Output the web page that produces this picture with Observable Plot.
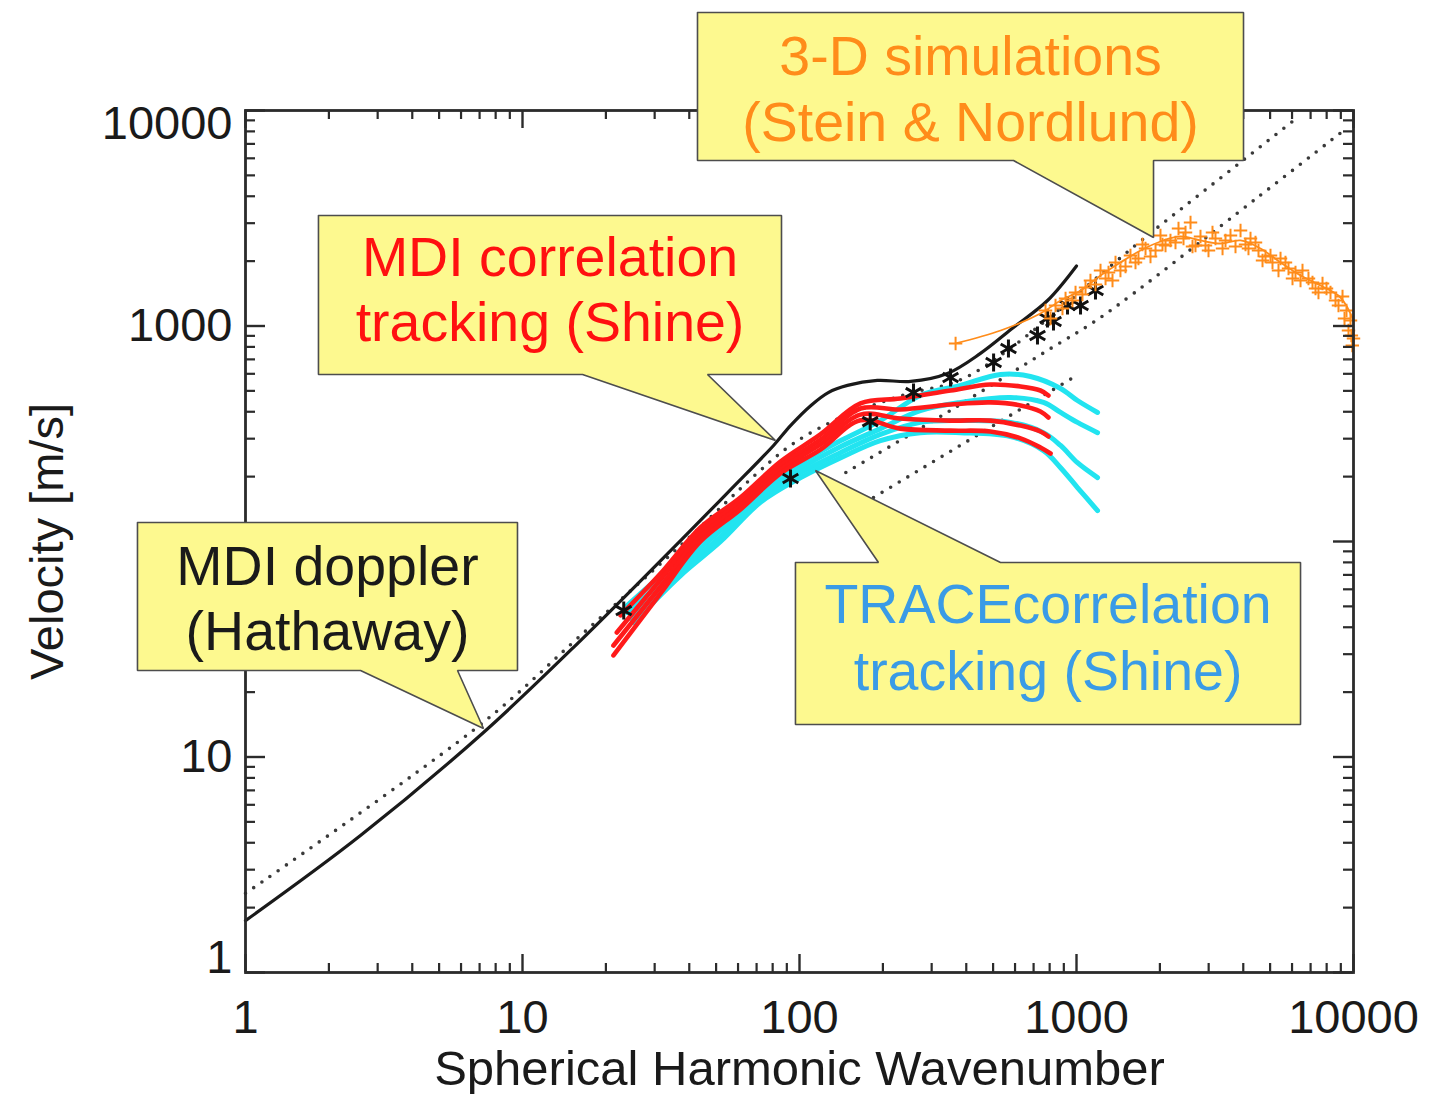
<!DOCTYPE html>
<html>
<head>
<meta charset="utf-8">
<script src="https://cdn.jsdelivr.net/npm/d3@7"></script>
<script src="https://cdn.jsdelivr.net/npm/@observablehq/plot@0.6"></script>
<style>
  html, body { margin: 0; padding: 0; background: #fff; }
  #chart svg { display: block; }
</style>
</head>
<body>
<div id="chart"></div>
<script>
// ---------- axis ticks / labels ----------
const majorTicks = [1, 10, 100, 1000, 10000];
const minorSteps = [2, 3, 4, 5, 6, 7, 8, 9];
const decades = [1, 10, 100, 1000];
const xTickLabels = [1, 10, 100, 1000, 10000];
const yTickLabelsMid = [1000, 10];
const yTickLabelTop = [10000];
const yTickLabelBottom = [1];
const xTitle = "Spherical Harmonic Wavenumber";
const yTitle = "Velocity [m/s]";

// ---------- data series (wavenumber k, velocity v) ----------
const mdiDoppler = [[1,1.74],[2.6,4.32],[7.23,13.0],[16.2,34.7],[37.2,101],[56.4,174],[80.6,279],[92.8,345],[110,428],[127,491],[149,530],[191,559],[252,553],[342,602],[450,746],[592,984],[786,1313],[1000,1900]];

const dottedA = [[1,2.33],[7.23,14.5],[16.2,36.6],[37.2,95.8],[72.3,214],[95.1,285],[141,376],[241,481],[404,583],[1961,2865],[6278,9280]];
const dottedB = [[147,209],[351,406],[806,786],[1221,1095],[4503,3948],[9513,8341]];
const dottedC = [[185,160],[975,577]];

const stars = [[23.2,47.8],[92.8,196],[180,360],[258,491],[351,577],[502,677],[568,786],[723,903],[786,1083],[826,1049],[928,1245],[1034,1245],[1171,1461]];

const red1 = [[22.6,45.4],[31.5,71.0],[43.9,116.1],[61.2,160],[85.4,235],[119,314],[166,437],[231,461],[351,502],[489,535],[628,524],[741,502],[792,476]];
const red2 = [[21.9,37.8],[31.5,66.6],[43.9,111.3],[61.2,153.3],[85.4,225],[119,297],[166,414],[231,410],[351,432],[489,442],[628,428],[741,401],[792,376]];
const red3 = [[21.3,32.9],[31.5,61.8],[43.9,105.5],[61.2,146.9],[85.4,216],[119,282],[166,388],[231,372],[351,364],[489,364],[628,345],[741,324],[792,307]];
const red4 = [[21.3,29.6],[31.5,57.4],[43.9,100],[61.2,140.8],[85.4,207],[119,267],[166,365],[231,334],[351,327],[489,324],[628,301],[741,273],[806,256]];

const cyan1 = [[23.9,50.5],[37.2,83.4],[51.9,118.7],[72.3,178],[101,232],[141,294],[196,364],[273,476],[381,530],[532,596],[682,583],[876,513],[1008,451],[1191,397]];
const cyan2 = [[23.9,46.8],[37.2,77.4],[51.9,112.5],[72.3,169],[101,220],[141,276],[196,334],[273,405],[381,442],[578,466],[760,442],[876,397],[1008,357],[1191,320]];
const cyan3 = [[24.6,43.9],[37.2,73.3],[51.9,105.5],[72.3,160],[101,209],[141,259],[196,314],[273,357],[381,364],[578,357],[760,320],[876,279],[1008,232],[1191,198]];
const cyan4 = [[25.2,42.1],[37.2,69.5],[51.9,100],[72.3,152],[101,198],[141,245],[196,294],[273,320],[381,320],[578,307],[760,264],[876,220],[1008,178],[1191,139]];

const simLine = [[366,830],[532,953],[741,1143],[876,1313],[1034,1461],[1221,1715],[1441,1971],[1702,2240],[2010,2467],[2374,2603],[2803,2494],[3311,2414],[3910,2494],[4617,2289],[5452,1971],[6438,1715],[7602,1541],[8977,1356],[10000,1061]];
const simPoints = [[366,830],[773,1180],[840,1245],[913,1342],[992,1430],[1078,1509],[1123,1626],[1221,1809],[1273,1661],[1383,1971],[1441,1809],[1566,2124],[1633,1971],[1775,2289],[1850,2101],[2010,2630],[2096,2363],[2184,2494],[2335,2834],[2475,2716],[2580,3022],[2689,2363],[2803,2603],[2996,2240],[3175,2547],[3367,2289],[3597,2630],[3910,2775],[4075,2389],[4248,2547],[4540,2240],[4812,2101],[5100,1971],[5452,2057],[5826,1849],[6175,1772],[6438,1626],[6878,1661],[7292,1493],[7730,1575],[8260,1430],[8610,1313],[9128,1371],[9434,1180],[9754,1061],[9825,903],[9900,812]];
const simPoints2 = [[806,1083],[890,1206],[967,1313],[1051,1401],[1171,1558],[1305,1772],[1349,1626],[1503,1889],[1674,2057],[1731,2389],[1929,2240],[2044,2389],[2277,2441],[2434,2547],[2623,2338],[2922,2363],[3097,2716],[3451,2494],[3750,2338],[4177,2289],[4428,2441],[4694,2013],[5016,2124],[5361,1809],[5681,1971],[6023,1661],[6545,1809],[7112,1592],[7474,1430],[7989,1493],[8827,1245],[9280,1083],[9592,953],[10000,875]];

// ---------- callouts (outline in data units) ----------
const calloutSim = [[42.83,28500],[4008,28500],[4008,5861],[1897,5861],[1897,2575],[592.4,5861],[42.83,5861],[42.83,28500]];
const calloutMdiCT = [[1.834,3257],[86.1,3257],[86.1,595.5],[46.55,595.5],[81.9,294.2],[16.47,595.5],[1.834,595.5],[1.834,3257]];
const calloutDoppler = [[0.4074,122.5],[9.592,122.5],[9.592,25.2],[5.826,25.2],[7.232,13.56],[2.602,25.2],[0.4074,25.2],[0.4074,122.5]];
const calloutTrace = [[96.7,79.9],[192.8,79.9],[114.2,213.5],[531.7,79.9],[6438,79.9],[6438,14.15],[96.7,14.15],[96.7,79.9]];

const calloutTexts = [
  {k: 414.4, v: 17620, text: "3-D simulations", color: "#ff8c1a"},
  {k: 414.4, v: 8703, text: "(Stein & Nordlund)", color: "#ff8c1a"},
  {k: 12.57, v: 2057, text: "MDI correlation", color: "#ff1010"},
  {k: 12.57, v: 1027, text: "tracking (Shine)", color: "#ff1010"},
  {k: 1.977, v: 75.74, text: "MDI doppler", color: "#1a1a1a"},
  {k: 1.977, v: 37.83, text: "(Hathaway)", color: "#1a1a1a"},
  {k: 789.3, v: 50.47, text: "TRACEcorrelation", color: "#3a9be6"},
  {k: 789.3, v: 24.67, text: "tracking (Shine)", color: "#3a9be6"}
];

// ---------- build tables ----------
const minorTicks = decades.flatMap(d => minorSteps.map(m => d * m));
const toRows = (curves) => curves.flatMap((c, i) => c.map(([k, v]) => ({k, v, id: i})));
const redRows = toRows([red1, red2, red3, red4]);
const cyanRows = toRows([cyan1, cyan2, cyan3, cyan4]);
const dottedRows = toRows([dottedA, dottedB, dottedC]);
const calloutRows = toRows([calloutSim, calloutMdiCT, calloutDoppler, calloutTrace]);
const simAll = simPoints.concat(simPoints2);

const W = 1444, H = 1094, ML = 245, MR = 91, MT = 110, MB = 122;
const FW = W - ML - MR, FH = H - MT - MB;
const axisColor = "#2b2b2b";
const font = "'Liberation Sans', Arial, Helvetica, sans-serif";
const kx = d => d[0], vy = d => d[1];

const chart = Plot.plot({
  width: W, height: H,
  marginLeft: ML, marginRight: MR, marginTop: MT, marginBottom: MB,
  x: {type: "log", domain: [1, 10000], axis: null},
  y: {type: "log", domain: [1, 10000], axis: null},
  style: {fontFamily: font, background: "#fff", color: "#1a1a1a"},
  marks: [
    // dotted reference lines
    Plot.line(dottedRows, {x: "k", y: "v", z: "id", stroke: "#3a3a3a", strokeWidth: 3.6, strokeDasharray: "0 10", strokeLinecap: "round", curve: "catmull-rom"}),
    // MDI doppler
    Plot.line(mdiDoppler, {x: kx, y: vy, stroke: "#1a1a1a", strokeWidth: 3.2, curve: "catmull-rom"}),
    // TRACE correlation tracking (cyan)
    Plot.line(cyanRows, {x: "k", y: "v", z: "id", stroke: "#22e4f0", strokeWidth: 5, curve: "catmull-rom"}),
    // MDI correlation tracking (red)
    Plot.line(redRows, {x: "k", y: "v", z: "id", stroke: "#ff1a1a", strokeWidth: 4.6, curve: "catmull-rom"}),
    // black asterisks
    Plot.dot(stars, {x: kx, y: vy, symbol: "asterisk", r: 8.5, stroke: "#111", strokeWidth: 3}),
    // 3-D simulations (orange)
    Plot.line(simLine, {x: kx, y: vy, stroke: "#ff8c1a", strokeWidth: 1.8, curve: "catmull-rom"}),
    Plot.dot(simAll, {x: kx, y: vy, symbol: "plus", r: 4.4, stroke: "#ff8c1a", strokeWidth: 2}),
    // frame and inward ticks (IDL style, all four sides)
    Plot.frame({stroke: axisColor, strokeWidth: 2.8}),
    Plot.tickX(majorTicks, {x: d => d, insetTop: FH - 18, stroke: axisColor, strokeWidth: 2.4}),
    Plot.tickX(minorTicks, {x: d => d, insetTop: FH - 9, stroke: axisColor, strokeWidth: 2.2}),
    Plot.tickX(majorTicks, {x: d => d, insetBottom: FH - 18, stroke: axisColor, strokeWidth: 2.4}),
    Plot.tickX(minorTicks, {x: d => d, insetBottom: FH - 9, stroke: axisColor, strokeWidth: 2.2}),
    Plot.tickY(majorTicks, {y: d => d, insetRight: FW - 20, stroke: axisColor, strokeWidth: 2.4}),
    Plot.tickY(minorTicks, {y: d => d, insetRight: FW - 10, stroke: axisColor, strokeWidth: 2.2}),
    Plot.tickY(majorTicks, {y: d => d, insetLeft: FW - 20, stroke: axisColor, strokeWidth: 2.4}),
    Plot.tickY(minorTicks, {y: d => d, insetLeft: FW - 10, stroke: axisColor, strokeWidth: 2.2}),
    // tick labels
    Plot.text(xTickLabels, {x: d => d, text: d => String(d), frameAnchor: "bottom", lineAnchor: "middle", dy: 45, fontSize: 47, fill: "#1a1a1a"}),
    Plot.text(yTickLabelsMid, {y: d => d, text: d => String(d), frameAnchor: "left", textAnchor: "end", lineAnchor: "middle", dx: -13, fontSize: 47, fill: "#1a1a1a"}),
    Plot.text(yTickLabelTop, {y: d => d, text: d => String(d), frameAnchor: "left", textAnchor: "end", lineAnchor: "middle", dx: -13, dy: 13, fontSize: 47, fill: "#1a1a1a"}),
    Plot.text(yTickLabelBottom, {y: d => d, text: d => String(d), frameAnchor: "left", textAnchor: "end", lineAnchor: "middle", dx: -13, dy: -15, fontSize: 47, fill: "#1a1a1a"}),
    // axis titles
    Plot.text([xTitle], {text: d => d, frameAnchor: "bottom", textAnchor: "middle", lineAnchor: "middle", dy: 97, fontSize: 49, fill: "#1a1a1a"}),
    Plot.text([yTitle], {text: d => d, frameAnchor: "left", textAnchor: "middle", lineAnchor: "middle", dx: -198, rotate: -90, fontSize: 47, fill: "#1a1a1a"}),
    // callouts
    Plot.line(calloutRows, {x: "k", y: "v", z: "id", fill: "#fdf98f", stroke: "#4d4d4d", strokeWidth: 1.6, strokeLinejoin: "miter", curve: "linear"}),
    Plot.text(calloutTexts, {x: "k", y: "v", text: "text", fill: "color", fontSize: 55.5, lineAnchor: "middle"})
  ]
});

document.getElementById("chart").appendChild(chart);
</script>
</body>
</html>
